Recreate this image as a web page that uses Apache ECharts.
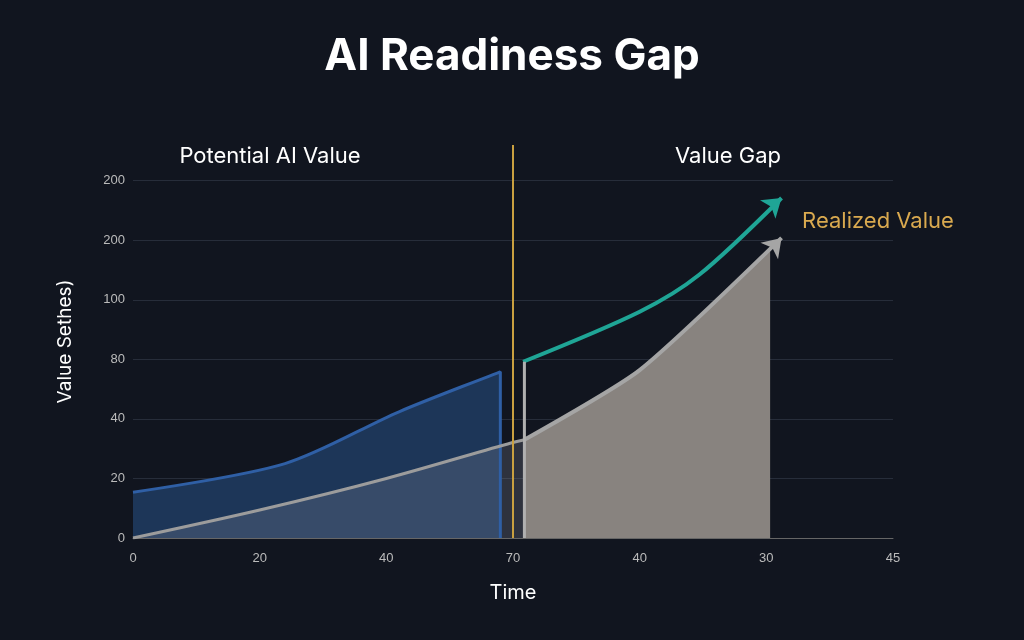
<!DOCTYPE html>
<html><head><meta charset="utf-8">
<script src="https://cdn.jsdelivr.net/npm/echarts@6/dist/echarts.min.js"></script>
<style>html,body{margin:0;background:#11151f;}#c{width:1024px;height:640px;}</style>
</head><body><div id="c"></div>
<script>
const xLabels=['0','20','40','70','40','30','45'];
const yLabels=['0','20','40','80','100','200','200'];
const potential=[[0,0.77],[1.2,1.25],[2.1,2.12],[2.9,2.79],[2.9,0]];
const realizedLeft=[[0,0],[1,0.47],[2,1.0],[2.99,1.6],[3.09,1.65]];
const realizedRight=[[3.09,1.65],[4,2.82],[5.03,4.84],[5.03,0]];
const realizedArrow=[[3.09,1.65],[4,2.82],[5.12,5.04]];
const gapLine=[[3.08,2.96],[4,3.8],[4.47,4.42],[5.12,5.71]];
const gapEdge=[[3.09,0],[3.09,2.96]];
const divider=[[3,0],[3,6.6]];
const arrowSym=(n,rot)=>({symbol:(v,p)=>p.dataIndex===n-1?'arrow':'none',symbolSize:18,symbolRotate:rot,showSymbol:true});
const G='#272d3a';
const chart=echarts.init(document.getElementById('c'));
chart.setOption({
backgroundColor:'#11151f',
title:[{text:'AI Readiness Gap',left:'center',top:30,textStyle:{color:'#fff',fontSize:44,fontWeight:'bold',fontFamily:'Inter'}},
{text:'Potential AI Value',left:265,top:140,textAlign:'center',textStyle:{color:'#fff',fontSize:22,fontWeight:'normal',fontFamily:'Inter'}},
{text:'Value Gap',left:723,top:140,textAlign:'center',textStyle:{color:'#fff',fontSize:22,fontWeight:'normal',fontFamily:'Inter'}},
{text:'Realized Value',left:873,top:205,textAlign:'center',textStyle:{color:'#d9a94f',fontSize:22,fontWeight:'normal',fontFamily:'Inter'}}],
grid:{left:133,right:131,top:145,bottom:102},
xAxis:{type:'value',min:0,max:6,interval:1,name:'Time',nameLocation:'middle',nameGap:45,
nameTextStyle:{color:'#fff',fontSize:20,fontFamily:'Inter'},
axisLine:{lineStyle:{color:'#666'}},axisTick:{show:false},splitLine:{show:false},
axisLabel:{color:'#bbb',fontSize:13,margin:14,formatter:v=>xLabels[v]}},
yAxis:{type:'value',min:0,max:6.6,interval:1,name:'Value Sethes)',nameLocation:'middle',nameGap:58,
nameTextStyle:{color:'#fff',fontSize:19,fontFamily:'Inter'},
axisLine:{show:false},axisTick:{show:false},splitLine:{lineStyle:{color:[G,G,G,G,G,G,G,'#11151f']}},
axisLabel:{color:'#bbb',fontSize:13,margin:8,showMaxLabel:false,formatter:v=>yLabels[v]||''}},
series:[
{type:'line',data:potential,symbol:'none',smooth:0.3,lineStyle:{color:'#2f5fa5',width:3},areaStyle:{color:'#1d3658',opacity:1}},
{type:'line',data:realizedLeft,symbol:'none',smooth:0.3,lineStyle:{color:'#9c9c9c',width:3},areaStyle:{color:'rgba(140,145,160,0.35)'}},
{type:'line',data:realizedRight,symbol:'none',smooth:0.2,lineStyle:{width:0},areaStyle:{color:'#88837f',opacity:1}},
Object.assign({type:'line',data:realizedArrow,smooth:0.2,lineStyle:{color:'#a5a5a5',width:4},itemStyle:{color:'#a5a5a5'}},arrowSym(3,-43)),
Object.assign({type:'line',data:gapLine,smooth:0.3,lineStyle:{color:'#1fa596',width:4},itemStyle:{color:'#1fa596'}},arrowSym(4,-50)),
{type:'line',data:gapEdge,symbol:'none',lineStyle:{color:'#b0b0b0',width:3}},
{type:'line',data:divider,symbol:'none',lineStyle:{color:'#c9a040',width:2}}
]});
</script></body></html>
